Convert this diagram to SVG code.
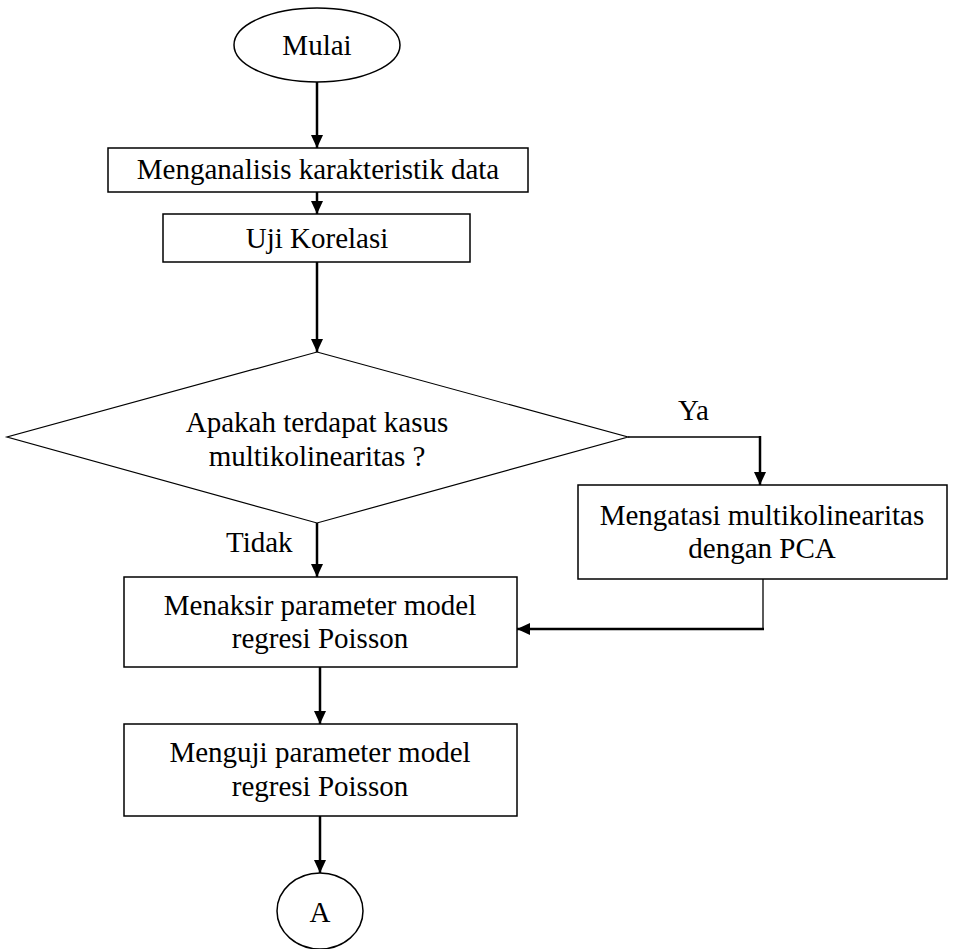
<svg xmlns="http://www.w3.org/2000/svg" width="953" height="949" viewBox="0 0 953 949">
<defs>
<style>
.box{fill:#fff;stroke:#000;stroke-width:1.5}
.dia{fill:#fff;stroke:#000;stroke-width:1.2}
.t{font-family:"Liberation Serif","Times New Roman",serif;font-size:29px;fill:#000}
.c{text-anchor:middle}
.ln{fill:none;stroke:#000;stroke-width:2.5}
.thin{fill:none;stroke:#000;stroke-width:1.3}
</style>
<marker id="ah" markerUnits="userSpaceOnUse" markerWidth="14" markerHeight="14" refX="13" refY="6" orient="auto">
<path d="M0,0 L13,6 L0,12 z" fill="#000"/>
</marker>
</defs>
<rect width="953" height="949" fill="#fff"/>
<g id="connectors">
<line class="ln" x1="317" y1="82" x2="317" y2="148" marker-end="url(#ah)"/>
<line class="ln" x1="317" y1="192" x2="317" y2="214" marker-end="url(#ah)"/>
<line class="ln" x1="317" y1="262" x2="317" y2="352" marker-end="url(#ah)"/>
<polyline class="thin" points="628,437 760,437"/>
<line class="ln" x1="760" y1="436" x2="760" y2="485" marker-end="url(#ah)"/>
<line class="ln" x1="317" y1="523" x2="317" y2="577" marker-end="url(#ah)"/>
<polyline class="thin" points="763,579 763,629"/>
<line class="ln" x1="764" y1="629" x2="517" y2="629" marker-end="url(#ah)"/>
<line class="ln" x1="320" y1="667" x2="320" y2="724" marker-end="url(#ah)"/>
<line class="ln" x1="320" y1="816" x2="320" y2="873" marker-end="url(#ah)"/>
<text class="t" x="678" y="420">Ya</text>
<text class="t" x="226" y="552">Tidak</text>
</g>
<g id="start">
<ellipse class="box" cx="317" cy="45" rx="83" ry="37"/>
<text class="t c" x="317" y="55">Mulai</text>
</g>
<g id="analisis">
<rect class="box" x="108" y="148" width="420" height="44"/>
<text class="t c" x="318" y="179">Menganalisis karakteristik data</text>
</g>
<g id="korelasi">
<rect class="box" x="163" y="214" width="307" height="48"/>
<text class="t c" x="317" y="248">Uji Korelasi</text>
</g>
<g id="decision">
<polygon class="dia" points="317,352 628,437 317,523 7,437"/>
<text class="t c" x="317" y="432">Apakah terdapat kasus</text>
<text class="t c" x="317" y="466">multikolinearitas ?</text>
</g>
<g id="pca">
<rect class="box" x="578" y="485" width="369" height="94"/>
<text class="t c" x="762" y="525">Mengatasi multikolinearitas</text>
<text class="t c" x="762" y="558">dengan PCA</text>
</g>
<g id="menaksir">
<rect class="box" x="124" y="577" width="393" height="90"/>
<text class="t c" x="320" y="615">Menaksir parameter model</text>
<text class="t c" x="320" y="648">regresi Poisson</text>
</g>
<g id="menguji">
<rect class="box" x="124" y="724" width="393" height="92"/>
<text class="t c" x="320" y="762">Menguji parameter model</text>
<text class="t c" x="320" y="796">regresi Poisson</text>
</g>
<g id="connectorA">
<ellipse class="box" cx="320" cy="911" rx="43" ry="38"/>
<text class="t c" x="320" y="922">A</text>
</g>
</svg>
